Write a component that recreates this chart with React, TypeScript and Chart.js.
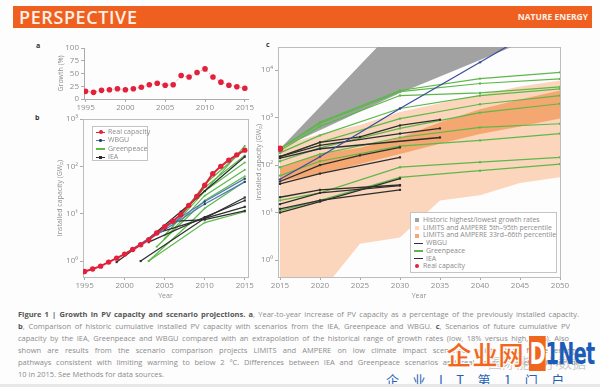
import React, { useEffect, useRef } from "react";
import { Chart, registerables } from "chart.js";
Chart.register(...registerables);

const FONT = "'Open Sans', 'Lato', 'DejaVu Sans', sans-serif";

// ---------------- Panel a: year-to-year growth (%) ----------------
const yearsA = [1995, 1996, 1997, 1998, 1999, 2000, 2001, 2002, 2003, 2004, 2005, 2006, 2007, 2008, 2009, 2010, 2011, 2012, 2013, 2014, 2015];
const growthPct = [15, 13, 17, 18, 20, 18, 20, 23, 28, 31, 27, 28, 46, 43, 52, 59, 43, 33, 27, 24, 21];
const growthTicks = [0, 25, 50, 75, 100];
const yearTicksAB = [1995, 2000, 2005, 2010, 2015];

// ---------------- Panel b: historic capacity vs scenarios (GWp) ----------------
const realYears = yearsA;
const realCap = [0.6, 0.68, 0.78, 0.95, 1.15, 1.4, 1.75, 2.2, 2.8, 3.9, 5.3, 6.9, 9.5, 15, 23, 40, 70, 100, 135, 175, 220];
const logTicksB = [1, 10, 100, 1000];

const wbguB1Years = [2000, 2005, 2010, 2015];
const wbguB1 = [1.4, 5.0, 18, 55];
const wbguB2Years = [2000, 2005, 2010, 2015];
const wbguB2 = [1.4, 4.6, 16, 47];

const gpB1Years = [2003, 2010, 2015];
const gpB1 = [1.0, 6.5, 11];
const gpB2Years = [2003, 2008, 2010, 2015];
const gpB2 = [1.0, 6, 13, 48];
const gpB3Years = [2004, 2010, 2015];
const gpB3 = [2.0, 19, 62];
const gpB4Years = [2005, 2010, 2015];
const gpB4 = [3.0, 24, 85];
const gpB5Years = [2005, 2010, 2015];
const gpB5 = [3.5, 30, 120];
const gpB6Years = [2006, 2010, 2015];
const gpB6 = [5.5, 36, 170];
const gpB7Years = [2007, 2010, 2015];
const gpB7 = [9, 42, 230];
const gpB8Years = [2009, 2012, 2015];
const gpB8 = [20, 70, 270];

const ieaB1Years = [1999, 2003, 2007, 2010, 2015];
const ieaB1 = [0.95, 3.0, 11, 30, 160];
const ieaB2Years = [2002, 2010, 2015];
const ieaB2 = [1.0, 8.0, 22];
const ieaB3Years = [2003, 2010, 2015];
const ieaB3 = [2.5, 8.5, 19];
const ieaB4Years = [2004, 2010, 2015];
const ieaB4 = [3.9, 8, 14];
const ieaB5Years = [2006, 2010, 2015];
const ieaB5 = [6.9, 7.5, 11.5];

// ---------------- Panel c: future scenarios (GWp) ----------------
const yearTicksC = [2015, 2020, 2025, 2030, 2035, 2040, 2045, 2050];
const logTicksC = [1, 10, 100, 1000, 10000];

const histHighYears = [2015, 2050];
const histHigh = [220, 3.2e8];
const histLowYears = [2015, 2030, 2050];
const histLow = [220, 3300, 80000];

const bandYears = [2015, 2020, 2025, 2030, 2035, 2040, 2045, 2050];
const p95 = [250, 450, 700, 1300, 2000, 3000, 4500, 6000];
const p5 = [0.05, 0.2, 2.2, 3, 18, 23, 42, 55];
const p66 = [90, 170, 230, 380, 800, 1500, 2400, 3700];
const p33 = [45, 65, 105, 170, 280, 450, 650, 950];

const gpCYears = [2015, 2020, 2030, 2040, 2050];
const gpC1 = [220, 800, 3700, 6600, 8900];
const gpC2 = [220, 750, 3500, 5200, 6500];
const gpC3 = [200, 650, 2900, 3300, 4400];
const gpC4 = [180, 420, 1550, 2900, 4000];
const gpC5 = [150, 300, 950, 1900, 2900];
const gpC6 = [120, 230, 590, 1270, 1950];
const gpC7 = [90, 170, 380, 620, 740];
const gpC8 = [60, 120, 250, 330, 460];
const gpC9 = [18, 26, 90, 115, 145];
const gpC10 = [11, 18, 55, 76, 105];

const ieaC1Years = [2015, 2020, 2025, 2030, 2035];
const ieaC1 = [150, 300, 390, 680, 900];
const ieaC2Years = [2015, 2020, 2030, 2035];
const ieaC2 = [150, 260, 460, 590];
const ieaC3Years = [2015, 2020, 2035];
const ieaC3 = [140, 220, 380];
const ieaC4Years = [2015, 2020, 2025, 2030];
const ieaC4 = [45, 100, 160, 235];
const ieaC5Years = [2015, 2020, 2030];
const ieaC5 = [40, 66, 145];
const ieaC6Years = [2015, 2020, 2030];
const ieaC6 = [21, 30, 38];
const ieaC7Years = [2015, 2020, 2030];
const ieaC7 = [15, 26, 37];
const ieaC8Years = [2015, 2020, 2030];
const ieaC8 = [12, 18, 30];
const ieaC9Years = [2015, 2020, 2030];
const ieaC9 = [10, 17, 52];

const wbguCYears = [2015, 2020, 2030, 2040, 2050];
const wbguC = [50, 150, 1550, 14500, 140000];

const realCYears = [2015];
const realC = [220];

// ---------------- colours ----------------
const RED = "#e3213b";
const GREEN = "#5cb84a";
const BLACK = "#2e2e2e";
const BLUE_B = "#5279b4";
const BLUE_C = "#3a4b9c";
const GRAY_BAND = "#a2a2a2";
const PEACH = "#fcd6bc";
const ORANGE = "#f5a772";
const AXIS = "#ababab";
const TICK_TXT = "#8e8e8e";

const SUP: Record<number, string> = { 0: "\u2070", 1: "\u00b9", 2: "\u00b2", 3: "\u00b3", 4: "\u2074" };

const pts = (xs: number[], ys: number[]) => xs.map((x, i) => ({ x, y: ys[i] }));

const framePlugin = {
  id: "frame",
  beforeDatasetsDraw(chart: any) {
    const { ctx, chartArea: a } = chart;
    ctx.save();
    ctx.strokeStyle = "#bdbdbd";
    ctx.lineWidth = 1;
    ctx.strokeRect(Math.round(a.left) + 0.5, Math.round(a.top) + 0.5, Math.round(a.right - a.left), Math.round(a.bottom - a.top));
    ctx.restore();
  },
};

function xAxis(min: number, max: number, ticks: number[], height: number, title: string | null, border: boolean) {
  return {
    type: "linear",
    min,
    max,
    afterBuildTicks: (s: any) => {
      s.ticks = ticks.map((v) => ({ value: v }));
    },
    afterFit: (s: any) => {
      s.height = height;
    },
    ticks: {
      color: TICK_TXT,
      font: { family: FONT, size: 8 },
      padding: 1,
      maxRotation: 0,
      autoSkip: false,
      callback: (v: any) => String(v),
    },
    grid: { display: true, drawOnChartArea: false, drawTicks: true, tickLength: 3, color: AXIS },
    border: { display: border, color: AXIS },
    title: {
      display: !!title,
      text: title || "",
      color: TICK_TXT,
      font: { family: FONT, size: 7 },
      padding: { top: 0, bottom: 0 },
    },
  };
}

function yAxis(type: string, min: number, max: number, ticks: number[], width: number, title: string, border: boolean, titlePad: number) {
  return {
    type,
    min,
    max,
    afterBuildTicks: (s: any) => {
      s.ticks = ticks.map((v) => ({ value: v }));
    },
    afterFit: (s: any) => {
      s.width = width;
    },
    ticks: {
      color: TICK_TXT,
      font: { family: FONT, size: 8 },
      padding: 2,
      autoSkip: false,
      callback: (v: any) => (type === "logarithmic" ? "10" + SUP[Math.round(Math.log10(v))] : String(v)),
    },
    grid: { display: true, drawOnChartArea: false, drawTicks: true, tickLength: 3, color: AXIS },
    border: { display: border, color: AXIS },
    title: {
      display: true,
      text: title,
      color: TICK_TXT,
      font: { family: FONT, size: 7 },
      padding: { top: titlePad, bottom: 0 },
    },
  };
}

function baseOptions(padTop: number, padRight: number, scales: any) {
  return {
    responsive: false,
    animation: false,
    devicePixelRatio: 1,
    layout: { padding: { top: padTop, right: padRight, left: 0, bottom: 0 } },
    plugins: { legend: { display: false }, tooltip: { enabled: false } },
    elements: { line: { tension: 0 } },
    scales,
  };
}

function lineDs(data: any[], color: string, width: number, radius: number, style: string, order: number, pointColor?: string, dash?: number[]) {
  return {
    data,
    borderColor: color,
    borderWidth: width,
    borderDash: dash || [],
    pointRadius: radius,
    pointStyle: style,
    pointBackgroundColor: pointColor || color,
    pointBorderWidth: 0,
    fill: false,
    order,
  };
}

function configA() {
  return {
    type: "line",
    data: {
      datasets: [lineDs(pts(yearsA, growthPct), "#f2a0aa", 1, 2.8, "circle", 1, RED, [1.5, 2])],
    },
    options: baseOptions(8, 14, {
      x: xAxis(1994.8, 2015.4, yearTicksAB, 11, null, true),
      y: yAxis("linear", 0, 100, growthTicks, 29, "Growth (%)", true, 2),
    }),
  };
}

function configB() {
  const greens = [
    [gpB1Years, gpB1], [gpB2Years, gpB2], [gpB3Years, gpB3], [gpB4Years, gpB4],
    [gpB5Years, gpB5], [gpB6Years, gpB6], [gpB7Years, gpB7], [gpB8Years, gpB8],
  ].map(([x, y]) => lineDs(pts(x, y), GREEN, 1.2, 1, "circle", 4));
  const blacks = [
    [ieaB1Years, ieaB1], [ieaB2Years, ieaB2], [ieaB3Years, ieaB3], [ieaB4Years, ieaB4], [ieaB5Years, ieaB5],
  ].map(([x, y]) => lineDs(pts(x, y), BLACK, 1.3, 1.5, "rect", 3));
  const blues = [
    [wbguB1Years, wbguB1], [wbguB2Years, wbguB2],
  ].map(([x, y]) => lineDs(pts(x, y), BLUE_B, 1.2, 1.2, "circle", 2, "#2b3c63"));
  return {
    type: "line",
    data: {
      datasets: [lineDs(pts(realYears, realCap), RED, 2, 2.7, "circle", 1), ...blues, ...blacks, ...greens],
    },
    options: baseOptions(7, 14, {
      x: xAxis(1994.8, 2015.4, yearTicksAB, 23, "Year", false),
      y: yAxis("logarithmic", 0.46, 1000, logTicksB, 28, "Installed capacity (GW\u209a)", false, 1),
    }),
    plugins: [framePlugin],
  };
}

function band(data: any[], color: string, fill: any, order: number) {
  return {
    data,
    borderColor: "rgba(0,0,0,0)",
    borderWidth: 0,
    pointRadius: 0,
    backgroundColor: color,
    fill,
    order,
  };
}

function configC() {
  const greens = [gpC1, gpC2, gpC3, gpC4, gpC5, gpC6, gpC7, gpC8, gpC9, gpC10].map((y) =>
    lineDs(pts(gpCYears, y), GREEN, 1.2, 1.2, "circle", 4)
  );
  const blacks = [
    [ieaC1Years, ieaC1], [ieaC2Years, ieaC2], [ieaC3Years, ieaC3], [ieaC4Years, ieaC4], [ieaC5Years, ieaC5],
    [ieaC6Years, ieaC6], [ieaC7Years, ieaC7], [ieaC8Years, ieaC8], [ieaC9Years, ieaC9],
  ].map(([x, y]) => lineDs(pts(x, y), BLACK, 1.3, 1.5, "rect", 3));
  return {
    type: "line",
    data: {
      datasets: [
        band(pts(bandYears, p95), PEACH, "+1", 10),
        band(pts(bandYears, p5), PEACH, false, 10),
        band(pts(bandYears, p66), ORANGE, "+1", 9),
        band(pts(bandYears, p33), ORANGE, false, 9),
        band(pts(histHighYears, histHigh), GRAY_BAND, "+1", 8),
        band(pts(histLowYears, histLow), GRAY_BAND, false, 8),
        lineDs(pts(realCYears, realC), RED, 0, 3.2, "circle", 0),
        lineDs(pts(wbguCYears, wbguC), BLUE_C, 1.2, 1.2, "circle", 2),
        ...blacks,
        ...greens,
      ],
    },
    options: baseOptions(7, 15, {
      x: xAxis(2014.75, 2050, yearTicksC, 23, "Year", false),
      y: yAxis("logarithmic", 0.44, 30500, logTicksC, 23, "Installed capacity (GW\u209a)", false, 0),
    }),
    plugins: [framePlugin],
  };
}

function ChartBox({ left, top, width, height, make }: any) {
  const ref = useRef<HTMLCanvasElement>(null);
  useEffect(() => {
    const chart = new Chart(ref.current as HTMLCanvasElement, make());
    return () => chart.destroy();
  }, []);
  return <canvas ref={ref} width={width} height={height} style={{ position: "absolute", left, top, width, height }} />;
}

function LineSym({ color, marker, markerColor, size }: any) {
  const s = size || 3;
  return (
    <span style={{ position: "relative", display: "inline-block", width: 9, height: 7, marginRight: 3, verticalAlign: "middle" }}>
      <span style={{ position: "absolute", left: 0, right: 0, top: 3, height: 1.3, background: color }} />
      {marker && (
        <span
          style={{
            position: "absolute",
            left: 4.5 - s / 2,
            top: 3.6 - s / 2,
            width: s,
            height: s,
            borderRadius: marker === "circle" ? "50%" : 0,
            background: markerColor || color,
          }}
        />
      )}
    </span>
  );
}

function SquareSym({ color, round }: any) {
  return (
    <span style={{ display: "inline-block", width: 4, height: 4, background: color, borderRadius: round ? "50%" : 0, marginLeft: 1, marginRight: 4, verticalAlign: "middle" }} />
  );
}

const legendText: any = { fontFamily: FONT, fontSize: 7, color: "#8a8a8a", lineHeight: "8.3px", whiteSpace: "nowrap" };
const legendTextC: any = { fontFamily: FONT, fontSize: 6.95, color: "#8a8a8a", lineHeight: "7.7px", whiteSpace: "nowrap" };

const captionLines: any[] = [
  [<b key="b1" style={{ color: "#555" }}>Figure 1 | Growth in PV capacity and scenario projections. a</b>, ", Year-to-year increase of PV capacity as a percentage of the previously installed capacity."],
  [<b key="b2" style={{ color: "#555" }}>b</b>, ", Comparison of historic cumulative installed PV capacity with scenarios from the IEA, Greenpeace and WBGU. ", <b key="b3" style={{ color: "#555" }}>c</b>, ", Scenarios of future cumulative PV"],
  ["capacity by the IEA, Greenpeace and WBGU compared with an extrapolation of the historical range of growth rates (low, 18% versus high, 50%). Also"],
  ["shown are results from the scenario comparison projects LIMITS and AMPERE on low climate impact scenarios, which study future energy"],
  ["pathways consistent with limiting warming to below 2 \u00b0C. Differences between IEA and Greenpeace scenarios and real capacity reach a factor of"],
  ["10 in 2015. See Methods for data sources."],
];
const captionWidths = [561, 552, 551, 560, 560, 0];

export default function App() {
  return (
    <div style={{ position: "absolute", left: 0, top: 0, width: 600, height: 387, overflow: "hidden", background: "#fdfdfd", fontFamily: FONT }}>
      {/* header */}
      <div style={{ position: "absolute", left: 13, top: 6, width: 579, height: 22, background: "#ef6020" }} />
      <div style={{ position: "absolute", left: 19, top: 5, fontFamily: FONT, fontWeight: 600, fontSize: 18, color: "#fdf0e6", lineHeight: "24px", letterSpacing: 0.6 }}>PERSPECTIVE</div>
      <div style={{ position: "absolute", right: 12, top: 6, fontFamily: FONT, fontWeight: 700, fontSize: 8.5, color: "#fdf0e6", lineHeight: "22px" }}>NATURE ENERGY</div>

      {/* panel letters */}
      <div style={{ position: "absolute", left: 36, top: 41, fontSize: 7, fontWeight: 700, color: "#333", fontFamily: FONT }}>a</div>
      <div style={{ position: "absolute", left: 35, top: 113, fontSize: 7, fontWeight: 700, color: "#333", fontFamily: FONT }}>b</div>
      <div style={{ position: "absolute", left: 266, top: 40, fontSize: 7, fontWeight: 700, color: "#333", fontFamily: FONT }}>c</div>

      <ChartBox left={55} top={40} width={207} height={70} make={configA} />
      <ChartBox left={55} top={112} width={207} height={188} make={configB} />
      <ChartBox left={255} top={40} width={320} height={260} make={configC} />

      {/* legend b */}
      <div style={{ position: "absolute", left: 92, top: 126, width: 56, height: 35, border: "1px solid #c4c4c4", background: "#fff", boxSizing: "border-box", padding: "1px 0 0 3px" }}>
        <div style={legendText}><LineSym color={RED} marker="circle" size={4} />Real capacity</div>
        <div style={legendText}><LineSym color={BLUE_B} marker="circle" markerColor="#2b3c63" size={2.5} />WBGU</div>
        <div style={legendText}><LineSym color={GREEN} marker="circle" size={2.5} />Greenpeace</div>
        <div style={legendText}><LineSym color={BLACK} marker="rect" size={3} />IEA</div>
      </div>

      {/* legend c */}
      <div style={{ position: "absolute", left: 410, top: 212, width: 147, height: 61, border: "1px solid #c4c4c4", background: "#fff", boxSizing: "border-box", padding: "3px 0 0 3px" }}>
        <div style={legendTextC}><SquareSym color={GRAY_BAND} />Historic highest/lowest growth rates</div>
        <div style={legendTextC}><SquareSym color={PEACH} />LIMITS and AMPERE 5th–95th percentile</div>
        <div style={legendTextC}><SquareSym color={ORANGE} />LIMITS and AMPERE 33rd–66th percentile</div>
        <div style={legendTextC}><LineSym color={"#2a2f4a"} />WBGU</div>
        <div style={legendTextC}><LineSym color={GREEN} />Greenpeace</div>
        <div style={legendTextC}><LineSym color={BLACK} />IEA</div>
        <div style={legendTextC}><SquareSym color={RED} round />Real capacity</div>
      </div>

      {/* caption */}
      {captionLines.map((parts, i) => (
        <div
          key={i}
          style={{
            position: "absolute",
            left: 18,
            top: 308 + i * 12,
            width: captionWidths[i] || undefined,
            fontFamily: FONT,
            fontSize: 7.5,
            lineHeight: "12px",
            color: "#8c8c8c",
            whiteSpace: "nowrap",
            textAlign: captionWidths[i] ? ("justify" as any) : ("left" as any),
            textAlignLast: captionWidths[i] ? ("justify" as any) : ("left" as any),
          }}
        >
          {parts}
        </div>
      ))}

      {/* watermark */}
      <div style={{ position: "absolute", left: 488, top: 352, fontFamily: "'Noto Sans CJK SC', sans-serif", fontSize: 14, color: "rgba(160,160,160,0.55)", whiteSpace: "nowrap" }}>国际能源小数据</div>
      <div style={{ position: "absolute", left: 446, top: 337, fontFamily: "'Noto Sans CJK SC', sans-serif", fontWeight: 900, fontSize: 26, lineHeight: "34px", color: "#f0661f", whiteSpace: "nowrap", WebkitTextStroke: "1px #fff" } as any}>企业网</div>
      <div style={{ position: "absolute", left: 529, top: 336, fontFamily: "'DejaVu Sans', sans-serif", fontWeight: 700, fontSize: 30, lineHeight: "36px", whiteSpace: "nowrap", letterSpacing: -1, transform: "scaleX(0.64)", transformOrigin: "left center" }}>
        <span style={{ color: "#fff", background: "#f0661f", padding: "0 1px" }}>D</span>
        <span style={{ color: "#1d5bb8" }}>1Net</span>
      </div>
      <div style={{ position: "absolute", left: 386, top: 372, fontFamily: "'Noto Sans CJK SC', sans-serif", fontSize: 13, lineHeight: "16px", color: "#1f63b8", whiteSpace: "nowrap", letterSpacing: 13.5 }}>企业IT第1门户</div>
      <div style={{ position: "absolute", left: 0, top: 384, width: 600, height: 3, background: "#e8e8e8" }} />
    </div>
  );
}
